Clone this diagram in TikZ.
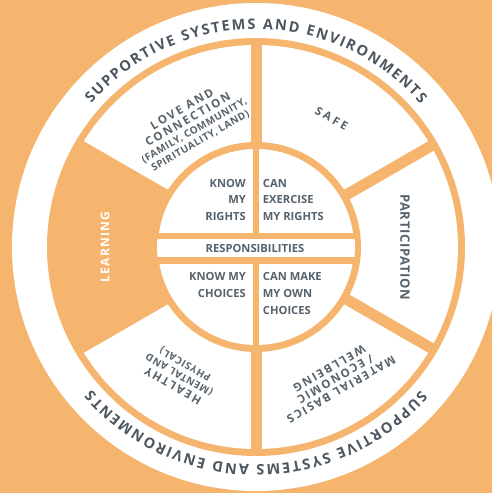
\documentclass[tikz,border=0pt]{standalone}
\usepackage{fontspec}
\setmainfont{Open Sans}
\usetikzlibrary{decorations.text,calc}
\definecolor{bgor}{HTML}{F5B56F}
\definecolor{txt}{HTML}{56626C}
\definecolor{txtd}{HTML}{4B5661}
\tikzset{
  innertxt/.style={font=\fontsize{11.2}{13}\selectfont\bfseries, text=txt, inner sep=0pt},
  sectortxt/.style={text=txt, inner sep=0pt, align=center},
  divider/.style={draw=bgor, line width=11pt},
}
\newcommand{\Lbig}[2]{{\fontsize{11.5}{12.6}\selectfont\bfseries\addfontfeature{LetterSpace=#1}#2}}
\newcommand{\Lsmall}[2]{{\fontsize{10}{12.6}\selectfont\bfseries\addfontfeature{LetterSpace=#1}#2}}
\begin{document}
\begin{tikzpicture}[x=1pt,y=1pt]
\useasboundingbox (0,0) rectangle (492,493);
\fill[bgor] (0,0) rectangle (492,493);
\coordinate (C) at (256,246);
\fill[white] (C) circle (244);
\fill[bgor] (C) circle (209);
\fill[white] (C) circle (202);
% learning wedge
\fill[bgor] (C) -- ++(150:205) arc[start angle=150, end angle=210, radius=205] -- cycle;
\foreach \a in {30,90,150,210,270,330} {
  \draw[divider] (C) -- ++(\a:205);
}
\fill[bgor] (C) circle (105);
\fill[white] (C) circle (98);
% inner cross
\draw[draw=bgor, line width=6pt] (256,146) -- (256,346);
\begin{scope}
  \clip (C) circle (99);
  \fill[bgor] (100,228.7) rectangle (400,260.3);
  \fill[white] (100,235.7) rectangle (400,253.7);
\end{scope}
% outer curved texts
\path[decorate, decoration={text along path, text align=fit to path,
  text={|\fontsize{14.5}{14.5}\selectfont\bfseries\color{txtd}|SUPPORTIVE SYSTEMS AND ENVIRONMENTS}}]
  (C) ++(139:218) arc[start angle=139, end angle=41, radius=218];
\path[decorate, decoration={text along path, text align=fit to path,
  text={|\fontsize{14.5}{14.5}\selectfont\bfseries\color{txtd}|SUPPORTIVE SYSTEMS AND ENVIRONMENTS}}]
  (C) ++(-41:218) arc[start angle=-41, end angle=-139, radius=218];
% inner texts
\node[innertxt, anchor=base east] (k1) at (246,305.7) {KNOW};
\node[innertxt, anchor=base east] (k2) at (246,289) {MY};
\node[innertxt, anchor=base east] (k3) at (246,272.3) {RIGHTS};
\node[innertxt, anchor=base west] (c1) at (262.7,305.7) {CAN};
\node[innertxt, anchor=base west] (c2) at (262.7,289) {EXERCISE};
\node[innertxt, anchor=base west] (c3) at (262.7,272.3) {MY RIGHTS};
\node[innertxt, anchor=base] (resp) at (255,240.7) {RESPONSIBILITIES};
\node[innertxt, anchor=base east] (km1) at (246,212) {KNOW MY};
\node[innertxt, anchor=base east] (km2) at (246,195.3) {CHOICES};
\node[innertxt, anchor=base west] (cm1) at (262.7,212) {CAN MAKE};
\node[innertxt, anchor=base west] (cm2) at (262.7,195.3) {MY OWN};
\node[innertxt, anchor=base west] (cm3) at (262.7,178.7) {CHOICES};
% sector texts
\node[sectortxt, rotate=30] (love) at ($(C)+(118:138)$) {%
  \Lbig{18}{LOVE AND}\\
  \Lbig{18}{CONNECTION}\\
  \Lsmall{5}{(FAMILY, COMMUNITY,}\\
  \Lsmall{5}{SPIRITUALITY, LAND)}};
\node[sectortxt, rotate=-30] (safe) at ($(C)+(59.5:149)$) {\Lbig{25}{SAFE}};
\node[sectortxt, rotate=-90, font=\fontsize{13}{13}\selectfont\bfseries\addfontfeature{LetterSpace=5}] (part) at ($(C)+(0:149)$) {PARTICIPATION};
\node[sectortxt, rotate=210] (mat) at ($(C)+(-59:154)$) {%
  \Lbig{16}{MATERIAL BASICS}\\
  \Lbig{16}{/ ECONOMIC}\\
  \Lbig{16}{WELLBEING}};
\node[sectortxt, rotate=150] (health) at ($(C)+(-121:149)$) {%
  \Lbig{16}{HEALTHY}\\
  \Lsmall{7}{(MENTAL AND}\\
  \Lsmall{7}{PHYSICAL)}};
\node[sectortxt, text=white, rotate=90, font=\fontsize{12}{12}\selectfont\bfseries\addfontfeature{LetterSpace=10}] (learn) at ($(C)+(180:151)$) {LEARNING};
\end{tikzpicture}
\end{document}
